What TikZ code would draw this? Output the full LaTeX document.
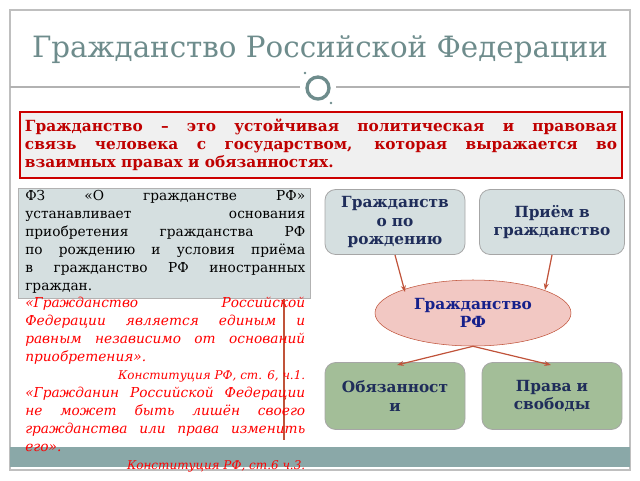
\documentclass[tikz,border=0pt]{standalone}
\usepackage{fontspec}
\setmainfont{DejaVu Serif}
\usetikzlibrary{shapes.geometric,arrows.meta}
\definecolor{ttl}{HTML}{6E8C8C}
\definecolor{band}{HTML}{8AA8A8}
\definecolor{gbox}{HTML}{D5DFE0}
\definecolor{grn}{HTML}{A3BE98}
\definecolor{pinkf}{HTML}{F2C8C3}
\definecolor{navy}{HTML}{1F2D5A}
\definecolor{arr}{HTML}{C0533A}
\tikzset{
 rbox/.style={draw=gray!70,rounded corners=8pt,line width=0.6pt,align=center,text=navy,font=\bfseries\fontsize{11.5}{14}\selectfont,minimum height=65*0.75pt,minimum width=140*0.75pt},
 conn/.style={draw=arr,line width=0.9pt,-{Stealth[length=5pt]}}
}
\begin{document}
\begin{tikzpicture}[x=0.75pt,y=-0.75pt]
\useasboundingbox (0,0) rectangle (640,480);
\draw[gray!50,line width=0.8pt] (10,10) rectangle (630,470);
\fill[band] (10,447) rectangle (630,467);
\node[text=ttl,font=\fontsize{22}{26}\selectfont\mdseries] (title) at (320,50) {Гражданство Российской Федерации};
\draw[gray!60,line width=0.8pt] (10,87) -- (300,87) (336,87) -- (630,87);
\draw[ttl,line width=2.5pt] (318,88) circle (11);
\fill[ttl] (305,73) circle (1.3) (331,103) circle (1.3);
\draw[red!80!black,line width=2pt,fill=gray!12] (20,112) rectangle (622,178);
\node[text=red!75!black,font=\bfseries\fontsize{11.5}{13.5}\selectfont,text width=444pt,align=justify] (deft) at (321,145) {Гражданство – это устойчивая политическая и правовая\linebreak связь человека с государством, которая выражается во\linebreak взаимных правах и обязанностях.};
\draw[arr,line width=1.5pt] (284,188) -- (284,440);
\fill[gbox,draw=gray!60] (18,188) rectangle (310,298);
\node[anchor=north west,inner sep=0,text width=210pt,align=justify,font=\fontsize{10.3}{13.5}\selectfont] (fz) at (25,190) {ФЗ «О гражданстве РФ» устанавливает основания приобретения гражданства РФ по рождению и условия приёма в гражданство РФ иностранных граждан.};
\node[anchor=north west,inner sep=0,text width=210pt,align=justify,text=red,font=\itshape\fontsize{10.3}{13.5}\selectfont] (q) at (25,297) {«Гражданство Российской Федерации является единым и равным независимо от оснований приобретения».\par
{\hfill\fontsize{9}{12}\selectfont Конституция РФ, ст. 6, ч.1.}\par
«Гражданин Российской Федерации не может быть лишён своего гражданства или права изменить его».\par
{\hfill\fontsize{9}{12}\selectfont Конституция РФ, ст.6 ч.3.}};
\node[rbox,fill=gbox,text width=128*0.75pt] (birth) at (395,222) {Гражданств\\о по\\рождению};
\node[rbox,fill=gbox,text width=136*0.75pt] (adm) at (552,222) {Приём в гражданство};
\node[ellipse,draw=arr,fill=pinkf,minimum width=196*0.75pt,minimum height=66*0.75pt,align=center,text=navy!70!blue,font=\bfseries\fontsize{11.5}{14}\selectfont] (rf) at (473,313) {Гражданство\\РФ};
\node[rbox,fill=grn,text width=128*0.75pt,minimum height=67*0.75pt] (duty) at (395,396) {Обязанност\\и};
\node[rbox,fill=grn,text width=128*0.75pt,minimum height=67*0.75pt] (rights) at (552,396) {Права и\\свободы};
\draw[conn] (395,255) -- (405,292);
\draw[conn] (552,255) -- (545,290);
\draw[conn] (rf.south) -- (397,365);
\draw[conn] (rf.south) -- (551,365);
\end{tikzpicture}
\end{document}
